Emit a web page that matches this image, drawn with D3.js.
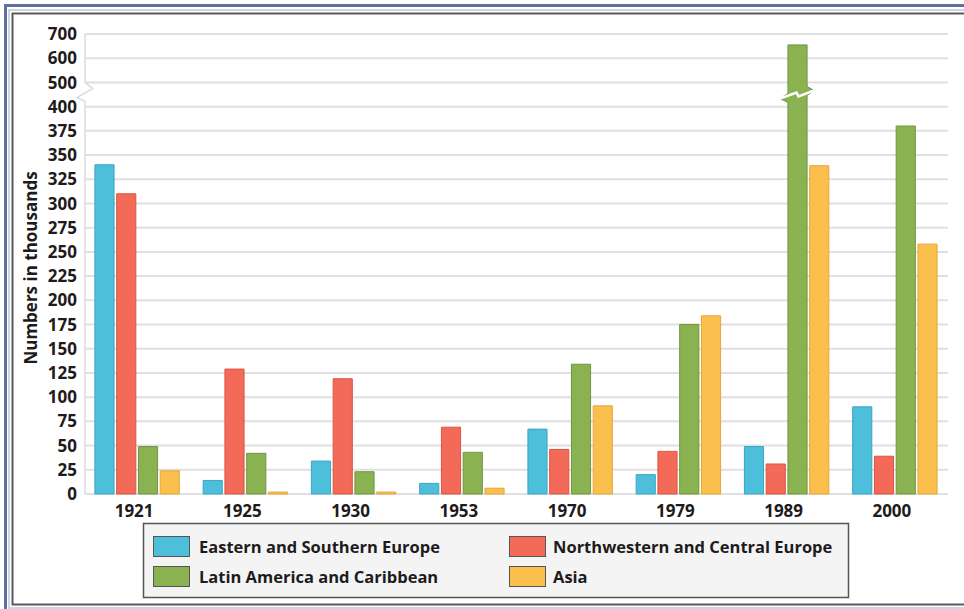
<!DOCTYPE html>
<html>
<head>
<meta charset="utf-8">
<script src="https://cdn.jsdelivr.net/npm/d3@7/dist/d3.min.js"></script>
<style>
    body { margin: 0; background: #fff; }
    svg { display: block; font-family: "Open Sans", "DejaVu Sans", sans-serif; }
    .tick-label { font-size: 17px; font-weight: 700; fill: #1e1b1c; }
    .legend-label { font-size: 16.5px; font-weight: 700; fill: #1e1b1c; }
</style>
</head>
<body>
<script>
// data (thousands)
var years = ["1921", "1925", "1930", "1953", "1970", "1979", "1989", "2000"];
var seriesNames = ["Eastern and Southern Europe", "Northwestern and Central Europe",
                   "Latin America and Caribbean", "Asia"];
var easternSouthern = [340, 14, 34, 11, 67, 20, 49, 90];
var northwesternCentral = [310, 129, 119, 69, 46, 44, 31, 39];
var latinAmerica = [49, 42, 23, 43, 134, 175, 655, 380];
var asia = [24, 2, 2, 6, 91, 184, 339, 258];
var yTicks = [0, 25, 50, 75, 100, 125, 150, 175, 200, 225, 250, 275, 300, 325, 350, 375,
              400, 500, 600, 700];

var seriesValues = [easternSouthern, northwesternCentral, latinAmerica, asia];
var colors = ["#4dbfdb", "#f36a59", "#8bb251", "#fbbf4d"];
var strokes = ["#3aa6c2", "#d95544", "#6f9640", "#e4a73a"];

var width = 964, height = 609;
var margins = {top: 34, left: 85, right: 15, bottom: 115};
var breakValue = 450;

var svg = d3.select("body").append("svg")
    .attr("width", width)
    .attr("height", height);

// frame
svg.append("rect")
    .attr("x", 5.5).attr("y", 5.5)
    .attr("width", 962).attr("height", 610)
    .attr("fill", "none")
    .attr("stroke", "#5d719a")
    .attr("stroke-width", 3);
svg.append("rect")
    .attr("x", 9).attr("y", 10)
    .attr("width", 960).attr("height", 598)
    .attr("fill", "none")
    .attr("stroke", "#c9d6e8")
    .attr("stroke-width", 2);
svg.append("rect")
    .attr("x", 12.5).attr("y", 13.5)
    .attr("width", 960).attr("height", 591)
    .attr("fill", "#fff")
    .attr("stroke", "#5a5a5a")
    .attr("stroke-width", 2);

var plotBottom = height - margins.bottom;   // 494
var plotTop = margins.top;
var step = (plotBottom - plotTop) / (yTicks.length - 1);

// piecewise scale: 0-400 in 25 steps, 400-700 in 100 steps
var y = d3.scaleLinear()
    .domain([0, 400, 700])
    .range([plotBottom, plotBottom - 16 * step, plotTop]);

var x0 = d3.scaleBand()
    .domain(years)
    .range([83, 949])
    .paddingInner(0.22)
    .paddingOuter(0.11);

var x1 = d3.scaleBand()
    .domain(d3.range(seriesNames.length))
    .range([0, x0.bandwidth()])
    .paddingInner(0.12);

// grid lines
svg.append("g")
    .attr("class", "grid")
    .selectAll("line")
    .data(yTicks)
    .enter().append("line")
    .attr("x1", margins.left)
    .attr("x2", 948)
    .attr("y1", function (d) { return y(d); })
    .attr("y2", function (d) { return y(d); })
    .attr("stroke", "#e0e0e0")
    .attr("stroke-width", 2);

// y axis line with break mark
var yb = y(breakValue);
svg.append("path")
    .attr("d", "M" + margins.left + "," + plotTop + "V" + (yb - 12)
        + "L" + (margins.left + 8) + "," + (yb - 6)
        + "L" + (margins.left - 8) + "," + (yb + 3)
        + "L" + margins.left + "," + (yb + 7)
        + "V" + plotBottom)
    .attr("fill", "none")
    .attr("stroke", "#dcdcdc")
    .attr("stroke-width", 1.5);

// y labels
svg.append("g")
    .selectAll("text")
    .data(yTicks)
    .enter().append("text")
    .attr("class", "tick-label")
    .attr("x", 77)
    .attr("y", function (d) { return y(d); })
    .attr("dy", "0.36em")
    .attr("text-anchor", "end")
    .text(function (d) { return d; });

// y title
svg.append("text")
    .attr("class", "tick-label")
    .attr("transform", "translate(37," + 268 + ") rotate(-90)")
    .attr("text-anchor", "middle")
    .text("Numbers in thousands");

// x labels
svg.append("g")
    .selectAll("text")
    .data(years)
    .enter().append("text")
    .attr("class", "tick-label")
    .attr("x", function (d) { return x0(d) + x0.bandwidth() / 2 - 3; })
    .attr("y", 517)
    .attr("text-anchor", "middle")
    .text(function (d) { return d; });

// bars
var groups = svg.append("g")
    .attr("class", "body")
    .selectAll("g")
    .data(years)
    .enter().append("g")
    .attr("transform", function (d) { return "translate(" + x0(d) + ",0)"; });

groups.selectAll("path")
    .data(function (d, i) {
        return seriesValues.map(function (s, k) { return {k: k, v: s[i]}; });
    })
    .enter().append("path")
    .attr("d", function (d) { return barPath(x1(d.k), x1.bandwidth(), d.v); })
    .attr("fill", function (d) { return colors[d.k]; })
    .attr("stroke", function (d) { return strokes[d.k]; })
    .attr("stroke-width", 1);

// white zigzag across the broken bars
groups.selectAll("polyline")
    .data(function (d, i) {
        return seriesValues.map(function (s, k) { return {k: k, v: s[i]}; })
            .filter(function (d) { return d.v > breakValue; });
    })
    .enter().append("polyline")
    .attr("points", function (d) {
        var bx = x1(d.k), bw = x1.bandwidth();
        return [[bx - 8, yb + 4], [bx + bw * 0.45, yb - 2],
                [bx + bw * 0.55, yb + 2], [bx + bw + 7, yb - 4]].join(" ");
    })
    .attr("fill", "none")
    .attr("stroke", "#fff")
    .attr("stroke-width", 2.5);

function barPath(bx, bw, v) {
    var top = y(v), bottom = y(0);
    if (v <= breakValue) {
        return "M" + bx + "," + bottom + "V" + top + "H" + (bx + bw) + "V" + bottom + "Z";
    }
    // bar with a notch that sticks out at the break
    return "M" + bx + "," + bottom
        + "V" + (yb + 8)
        + "L" + (bx - 8) + "," + (yb + 4)
        + "L" + bx + "," + (yb - 1)
        + "V" + top + "H" + (bx + bw)
        + "V" + (yb - 8)
        + "L" + (bx + bw + 7) + "," + (yb - 4)
        + "L" + (bx + bw) + "," + (yb + 1)
        + "V" + bottom + "Z";
}

// legend
var legend = svg.append("g").attr("class", "legend");
legend.append("rect")
    .attr("x", 143.5).attr("y", 523.5)
    .attr("width", 705).attr("height", 74)
    .attr("fill", "#f4f4f4")
    .attr("stroke", "#555")
    .attr("stroke-width", 1.5);

var legendItems = legend.selectAll("g.item")
    .data(seriesNames)
    .enter().append("g")
    .attr("class", "item")
    .attr("transform", function (d, i) {
        var lx = (i % 2 === 0) ? 153 : 509;
        var ly = (i < 2) ? 536 : 566;
        return "translate(" + lx + "," + ly + ")";
    });

legendItems.append("rect")
    .attr("x", 0.5).attr("y", 0.5)
    .attr("width", 36).attr("height", 20)
    .attr("fill", function (d, i) { return colors[i]; })
    .attr("stroke", "#555")
    .attr("stroke-width", 1);

legendItems.append("text")
    .attr("class", "legend-label")
    .attr("x", function (d, i) { return (i % 2 === 0) ? 46 : 44; })
    .attr("y", 11)
    .attr("dy", "0.36em")
    .text(function (d) { return d; });
</script>
</body>
</html>
